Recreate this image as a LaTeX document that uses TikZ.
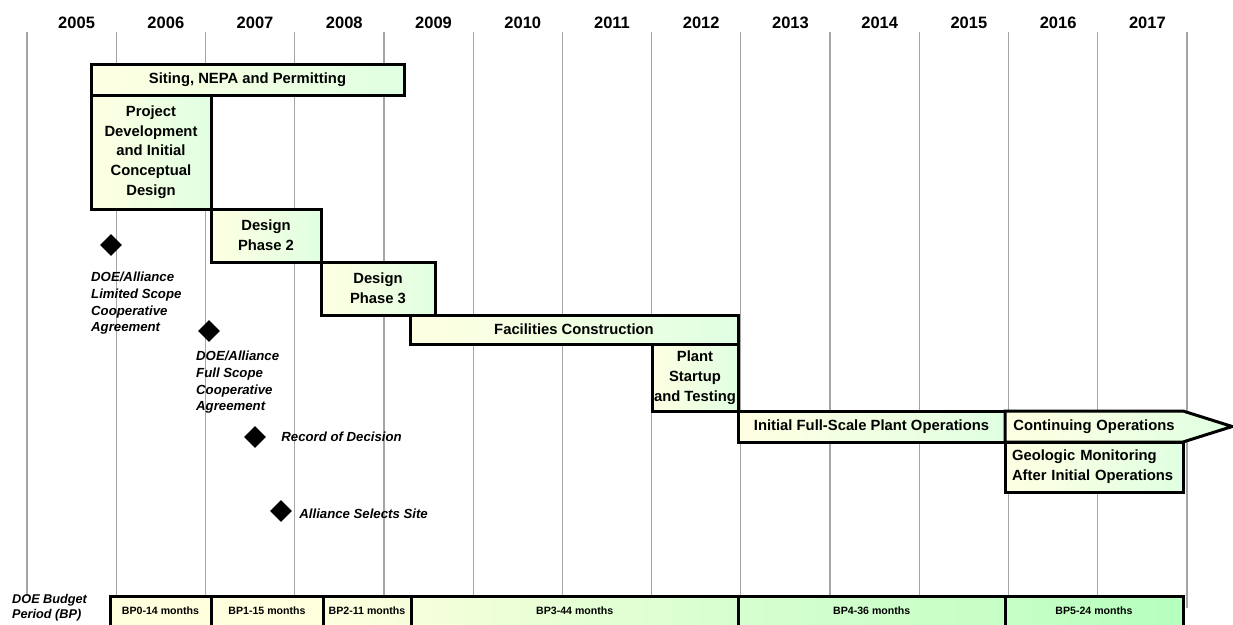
\documentclass[tikz,border=0pt]{standalone}
\usepackage{fontspec}
\setmainfont{Liberation Sans}
\usetikzlibrary{positioning,shapes.geometric,shapes.symbols}
\definecolor{barleft}{RGB}{255,255,226}
\definecolor{barright}{RGB}{224,255,226}
\definecolor{gridgray}{RGB}{165,165,165}
\definecolor{bpyellow}{RGB}{255,255,222}
\definecolor{bplime}{RGB}{238,255,216}
\definecolor{bpmint}{RGB}{214,255,206}
\definecolor{bpgreen}{RGB}{198,255,198}
\definecolor{bpdeep}{RGB}{182,255,190}
\tikzset{
  task/.style={draw=black, line width=3pt, outer sep=0pt, inner sep=0pt,
    left color=barleft, right color=barright, align=center,
    font=\fontsize{14.8}{19.7}\selectfont\bfseries},
  milestone/.style={diamond, fill=black, minimum size=22pt, inner sep=0pt},
  mlabel/.style={inner sep=0pt, align=left,
    font=\fontsize{13.2}{16.7}\selectfont\bfseries\itshape},
  budget/.style={draw=black, line width=3pt, outer sep=0pt, inner sep=0pt,
    minimum height=30pt, font=\fontsize{10.6}{12}\selectfont\bfseries},
  year/.style={inner sep=0pt, font=\fontsize{16.5}{18}\selectfont\bfseries},
  grid line/.style={gridgray, line width=1.2pt}
}

\begin{document}
\begin{tikzpicture}[x=1pt,y=-1pt]
  \useasboundingbox (0,0) rectangle (1233,624);
  \clip (0,0) rectangle (1233,624);

  % years and grid
  \foreach \i [evaluate=\i as \yr using int(2005+\i)] in {0,...,12}
    \node [year] (y\yr) at (76.6+89.23*\i,23) {\yr};
  \foreach \i in {0,...,13}
    \draw [grid line] (27+89.23*\i,32) -- (27+89.23*\i,596);
  \draw [grid line] (1187,596) -- (1187,608);

  % activities
  \node [task, minimum width=313pt, minimum height=31pt, anchor=north west] (sit) at (91,64) {Siting, NEPA and Permitting};
  \node [task, minimum width=120pt, minimum height=114pt, below=0pt of sit.south west, anchor=north west] (pdev) {Project\\Development\\and Initial\\Conceptual\\Design};
  \node [task, minimum width=110pt, minimum height=53pt, anchor=north west] (dp2) at (pdev.south east) {Design\\Phase 2};
  \node [task, minimum width=114pt, minimum height=53pt, anchor=north west] (dp3) at (dp2.south east) {Design\\Phase 3};
  \node [task, minimum width=328pt, minimum height=29pt, anchor=north west] (fac) at (410,315) {Facilities Construction};
  \node [task, minimum width=86pt, minimum height=67pt, anchor=north east] (pst) at (fac.south east) {Plant\\Startup\\and Testing};
  \node [task, minimum width=267pt, minimum height=31pt, anchor=north west] (ops) at (pst.south east) {Initial Full-Scale Plant Operations};
  \node [task, signal, signal to=east, signal pointer angle=35, text width=164pt, inner xsep=7pt, minimum height=31pt, anchor=north west] (cont) at (ops.north east) {Continuing Operations};
  \node [task, text width=164pt, inner xsep=7pt, align=left, minimum height=50pt, anchor=north west] (geo) at (ops.south east) {Geologic Monitoring\\After Initial Operations};

  % milestones
  \node [milestone] (m1) at (111,245) {};
  \node [mlabel, anchor=north west] (m1t) at (91,272) {DOE/Alliance\\Limited Scope\\Cooperative\\Agreement};
  \node [milestone] (m2) at (209,331) {};
  \node [mlabel, anchor=north west] (m2t) at (196,351) {DOE/Alliance\\Full Scope\\Cooperative\\Agreement};
  \node [milestone] (m3) at (255,437) {};
  \node [mlabel, right=15pt of m3] (m3t) {Record of Decision};
  \node [milestone] (m4) at (281,511) {};
  \node [mlabel, right=7pt of m4, yshift=-3pt] (m4t) {Alliance Selects Site};

  % budget periods
  \node [mlabel, font=\fontsize{12.7}{15}\selectfont\bfseries\itshape, anchor=north west] (bplab) at (12,594) {DOE Budget\\Period (BP)};
  \node [budget, minimum width=101pt, left color=bpyellow, right color=bpyellow, anchor=north west] (bp0) at (110,596) {BP0-14 months};
  \node [budget, minimum width=112pt, left color=bpyellow, right color=bpyellow, right=0pt of bp0] (bp1) {BP1-15 months};
  \node [budget, minimum width=88pt, left color=bpyellow, right color=bplime!60!bpyellow, right=0pt of bp1] (bp2) {BP2-11 months};
  \node [budget, minimum width=327.5pt, left color=bplime!50!bpyellow, right color=bpmint, right=0pt of bp2] (bp3) {BP3-44 months};
  \node [budget, minimum width=266.5pt, left color=bpmint, right color=bpgreen, right=0pt of bp3] (bp4) {BP4-36 months};
  \node [budget, minimum width=178pt, left color=bpgreen, right color=bpdeep, right=0pt of bp4] (bp5) {BP5-24 months};
\end{tikzpicture}
\end{document}
